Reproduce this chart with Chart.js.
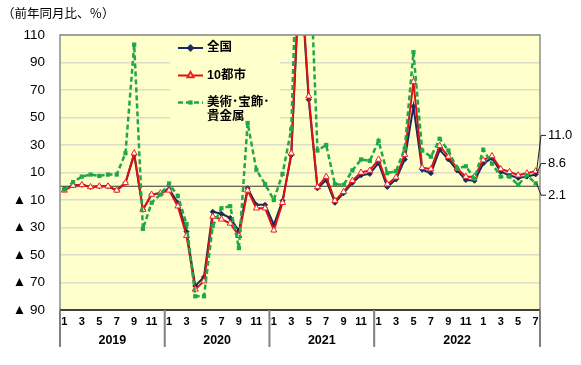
<!DOCTYPE html>
<html lang="ja">
<head>
<meta charset="utf-8">
<title>前年同月比</title>
<script src="https://cdn.jsdelivr.net/npm/chart.js@4.4.0/dist/chart.umd.min.js"></script>
<style>
  html, body { margin: 0; padding: 0; background: #fff; }
</style>
</head>
<body>
<canvas id="c" width="581" height="365"></canvas>
<script>
// --- データ ---
const monthLabels = [
  1, 2, 3, 4, 5, 6, 7, 8, 9, 10, 11, 12,
  1, 2, 3, 4, 5, 6, 7, 8, 9, 10, 11, 12,
  1, 2, 3, 4, 5, 6, 7, 8, 9, 10, 11, 12,
  1, 2, 3, 4, 5, 6, 7, 8, 9, 10, 11, 12,
  1, 2, 3, 4, 5, 6, 7
];
const yearLabels = ['2019', '2020', '2021', '2022'];
const yearStarts = [0, 12, 24, 36];   // 最後のグループは末尾まで

const zenkoku = [
  -2, 0.5, 1, -0.5, 0, 0, -3, 2.5, 23, -17, -6, -5,
  -2, -12, -33, -72.5, -66, -18.5, -20, -23, -32.5, -1.5, -13.5, -13.5,
  -28, -10.5, 22.5, 160, 63, -1.5, 4.5, -12, -5, 2.5, 8, 9,
  17, -0.5, 5, 19.5, 58, 12, 9.5, 26.5, 19.5, 11.5, 4.5, 4,
  16.5, 20.5, 10.5, 8, 6, 7, 8.6
];
const toshi10 = [
  -3, 0.5, 1, -0.5, 0, 0, -3, 2.5, 24, -17, -6, -5,
  -3, -14.5, -36, -75, -69, -22, -24, -27, -36, -3, -16, -16,
  -32, -12, 24, 165, 65.5, -0.5, 7, -10.5, -4, 4, 10, 11.5,
  19.5, 1.5, 6.5, 23, 76, 13.5, 12.5, 29.5, 21.5, 13, 7, 7,
  19, 22, 12.5, 10.5, 8, 9.5, 11.0
];
const bijutsu = [
  -2.5, 3, 7, 8.5, 7.5, 8.5, 8.5, 24, 103, -31, -12, -6,
  2, -7, -27.5, -80, -80, -29, -16, -14.5, -45, 46, 12, 1.5,
  -10, 9, 41.5, 250, 190, 26, 30, 1.5, 1, 11.5, 19.5, 18.5,
  33, 9.5, 11, 27.5, 97.5, 26, 21.5, 34.5, 26, 13, 14.5, 5.5,
  26.5, 16.5, 7, 7, 1, 8, 2.1
];
const yTicks = { min: -90, max: 110, step: 20 };

const FONT = "'Liberation Sans', Arial, 'Noto Sans CJK JP', sans-serif";
const JFONT = "'Noto Sans CJK JP', sans-serif";

// 凡例とラベル(右端)の設定
const legendText = [['全国'], ['10都市'], ['美術･宝飾･', '貴金属']];
const endLabelAt = [16.5, 37, -6.5]; // 軸上の値の位置に置く

const decor = {
  id: 'decor',
  beforeDraw(chart) {
    const { ctx, chartArea: a } = chart;
    ctx.save();
    ctx.fillStyle = '#fff';
    ctx.fillRect(0, 0, chart.width, chart.height);
    ctx.fillStyle = '#ffffcc';
    ctx.fillRect(a.left, a.top, a.right - a.left, a.bottom - a.top);
    ctx.restore();
  },
  beforeDatasetsDraw(chart) {
    const { ctx, chartArea: a, scales: { y } } = chart;
    ctx.save();
    // ゼロ線
    const y0 = y.getPixelForValue(0);
    ctx.strokeStyle = '#333';
    ctx.lineWidth = 1.2;
    ctx.beginPath(); ctx.moveTo(a.left, y0); ctx.lineTo(a.right, y0); ctx.stroke();

    // 凡例
    const lx = a.left + 110, ly = a.top + 1;
    ctx.fillStyle = '#ffffcc';
    ctx.fillRect(lx, ly, 110, 90);
    const rows = [a.top + 13, a.top + 40.5, a.top + 67.5];
    chart.data.datasets.forEach((ds, i) => {
      const ry = rows[i];
      ctx.save();
      ctx.strokeStyle = ds.borderColor;
      ctx.lineWidth = ds.borderWidth;
      ctx.setLineDash(ds.borderDash || []);
      ctx.beginPath(); ctx.moveTo(lx + 8, ry); ctx.lineTo(lx + 33, ry); ctx.stroke();
      ctx.setLineDash([]);
      ctx.fillStyle = ds.pointBackgroundColor;
      ctx.strokeStyle = ds.pointBorderColor;
      Chart.helpers.drawPoint(ctx, {
        pointStyle: ds.pointStyle, radius: ds.pointRadius, rotation: 0,
        borderWidth: ds.pointBorderWidth
      }, lx + 20.5, ry);
      ctx.restore();
      ctx.fillStyle = '#000';
      ctx.font = 'bold 12.5px ' + FONT;
      ctx.textBaseline = 'middle';
      ctx.textAlign = 'left';
      legendText[i].forEach((t, k) => ctx.fillText(t, lx + 37, ry + k * 14));
    });
    ctx.restore();
  },
  afterDraw(chart) {
    const { ctx, chartArea: a, scales: { x, y } } = chart;
    ctx.save();
    // 枠
    ctx.strokeStyle = '#8c8c8c';
    ctx.lineWidth = 1.5;
    ctx.strokeRect(a.left, a.top, a.right - a.left, a.bottom - a.top);
    ctx.strokeStyle = '#404040';
    ctx.lineWidth = 2;
    ctx.beginPath(); ctx.moveTo(a.left, a.bottom); ctx.lineTo(a.right, a.bottom); ctx.stroke();

    // 年の区切り
    const bounds = yearStarts.map((s, i) => i === 0 ? a.left :
      (x.getPixelForValue(s - 1) + x.getPixelForValue(s)) / 2);
    bounds.push(a.right);
    ctx.strokeStyle = '#808080';
    ctx.lineWidth = 2;
    bounds.forEach(bx => {
      ctx.beginPath(); ctx.moveTo(bx, a.bottom); ctx.lineTo(bx, a.bottom + 37); ctx.stroke();
    });
    ctx.fillStyle = '#000';
    ctx.font = 'bold 12.5px ' + FONT;
    ctx.textAlign = 'center';
    ctx.textBaseline = 'middle';
    yearLabels.forEach((t, i) => ctx.fillText(t, (bounds[i] + bounds[i + 1]) / 2, a.bottom + 31));

    // タイトル
    ctx.font = '12.5px ' + JFONT;
    ctx.textAlign = 'left';
    ctx.fillText('（前年同月比、％）', 2, 13);

    // 右端の値
    ctx.font = '13px ' + FONT;
    ctx.strokeStyle = '#222';
    ctx.lineWidth = 1;
    chart.data.datasets.forEach((ds, i) => {
      const last = ds.data.length - 1;
      const px = x.getPixelForValue(last), py = y.getPixelForValue(ds.data[last]);
      const ty = y.getPixelForValue(endLabelAt[i]);
      ctx.beginPath();
      ctx.moveTo(px + 1, py); ctx.lineTo(a.right + 1, ty); ctx.lineTo(a.right + 6, ty);
      ctx.stroke();
      ctx.fillText(ds.data[last].toFixed(1), a.right + 8, ty);
    });
    ctx.restore();
  }
};

new Chart(document.getElementById('c'), {
  type: 'line',
  data: {
    labels: monthLabels.map(String),
    datasets: [
      {
        label: '全国', data: zenkoku, order: 3,
        borderColor: '#1a2a60', borderWidth: 2,
        pointStyle: 'rectRot', pointRadius: 2.5, pointBorderWidth: 1,
        pointBackgroundColor: '#1a2a60', pointBorderColor: '#1a2a60'
      },
      {
        label: '10都市', data: toshi10, order: 2,
        borderColor: '#dd1111', borderWidth: 2,
        pointStyle: 'triangle', pointRadius: 3.5, pointBorderWidth: 1,
        pointBackgroundColor: '#ffffff', pointBorderColor: '#ee2222'
      },
      {
        label: '美術･宝飾･貴金属', data: bijutsu, order: 1,
        borderColor: '#20a848', borderWidth: 2.5, borderDash: [5, 3],
        pointStyle: 'rect', pointRadius: 3, pointBorderWidth: 0,
        pointBackgroundColor: '#20a848', pointBorderColor: '#20a848'
      }
    ]
  },
  options: {
    responsive: false,
    animation: false,
    layout: { padding: { top: 35, right: 41, left: 0, bottom: 0 } },
    elements: { line: { tension: 0 } },
    plugins: { legend: { display: false }, tooltip: { enabled: false } },
    scales: {
      x: {
        type: 'category',
        offset: true,
        grid: { display: false, drawTicks: false },
        border: { display: false },
        ticks: {
          autoSkip: false, maxRotation: 0, padding: 5, color: '#000',
          font: { family: FONT, size: 11, weight: 'bold' },
          callback: (v, i) => monthLabels[i] % 2 === 1 ? String(monthLabels[i]) : ''
        },
        afterFit: s => { s.height = 55; }
      },
      y: {
        min: yTicks.min, max: yTicks.max,
        grid: { color: '#dcdcc8', lineWidth: 1.5, drawTicks: false },
        border: { display: false },
        ticks: {
          stepSize: yTicks.step, padding: 15, color: '#000',
          font: { family: FONT, size: 13.5 },
          callback: v => v < 0 ? '▲ ' + Math.abs(v) : String(v)
        },
        afterFit: s => { s.width = 60; }
      }
    }
  },
  plugins: [decor]
});
</script>
</body>
</html>
